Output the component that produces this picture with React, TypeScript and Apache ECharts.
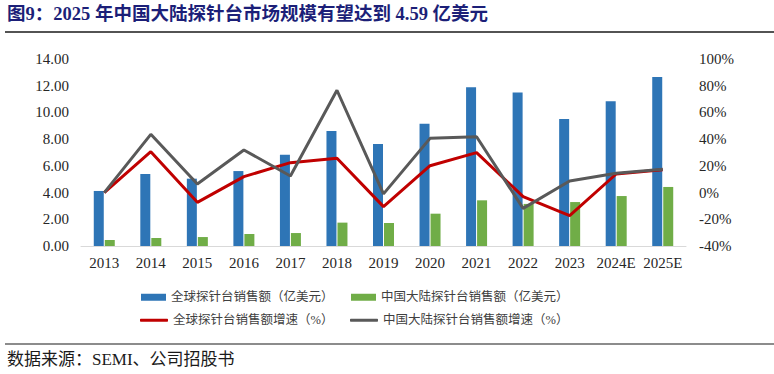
import React, { useEffect, useRef } from "react";
import * as echarts from "echarts";

const years = ["2013", "2014", "2015", "2016", "2017", "2018", "2019", "2020", "2021", "2022", "2023", "2024E", "2025E"];
const globalSales = [4.12, 5.39, 5.04, 5.61, 6.84, 8.61, 7.64, 9.16, 11.88, 11.5, 9.5, 10.83, 12.65];
const chinaSales = [0.45, 0.6, 0.67, 0.9, 0.97, 1.75, 1.72, 2.42, 3.42, 3.15, 3.29, 3.74, 4.42];
const globalGrowth = [0, 30.6, -7.3, 11.9, 22.4, 25.7, -10.5, 20.1, 29.9, -3.0, -17.3, 13.9, 17.1];
const chinaGrowth = [0, 43.6, 6.4, 31.9, 12.4, 76.6, -1.0, 40.6, 41.8, -11.8, 8.7, 14.4, 17.4];

const leftTicks = { min: 0, max: 14, interval: 2 };
const rightTicks = { min: -40, max: 100, interval: 20 };

const names = [
  "全球探针台销售额（亿美元）",
  "中国大陆探针台销售额（亿美元）",
  "全球探针台销售额增速（%）",
  "中国大陆探针台销售额增速（%）",
];

const SERIF = "'Liberation Serif', 'Times New Roman', 'Noto Sans CJK SC', serif";
const TXT = "#262626";

export default function App() {
  const ref = useRef<HTMLDivElement>(null);
  useEffect(() => {
    if (!ref.current) return;
    const chart = echarts.init(ref.current, undefined, { renderer: "svg" });
    const legendBase = {
      itemGap: 0,
      padding: 0,
      textStyle: { fontFamily: SERIF, fontSize: 12.5, color: "#404040" },
      itemWidth: 25,
      selectedMode: false,
    };
    chart.setOption({
      animation: false,
      backgroundColor: "#ffffff",
      grid: { left: 81, right: 88, top: 59, bottom: 128, containLabel: false },
      legend: [
        { ...legendBase, data: [{ name: names[0], icon: "rect" }], left: 141, top: 291, itemHeight: 7 },
        { ...legendBase, data: [{ name: names[1], icon: "rect" }], left: 351, top: 291, itemHeight: 7 },
        { ...legendBase, data: [{ name: names[2], icon: "roundRect" }], left: 140, top: 314, itemHeight: 3, itemWidth: 28 },
        { ...legendBase, data: [{ name: names[3], icon: "roundRect" }], left: 350, top: 314, itemHeight: 3, itemWidth: 28 },
      ],
      xAxis: {
        type: "category",
        data: years,
        axisLine: { lineStyle: { color: "#d9d9d9", width: 1 } },
        axisTick: { show: false },
        axisLabel: { fontFamily: SERIF, fontSize: 15, color: TXT, margin: 9, interval: 0 },
      },
      yAxis: [
        {
          type: "value",
          ...leftTicks,
          splitLine: { show: false },
          axisLine: { show: false },
          axisTick: { show: false },
          axisLabel: {
            fontFamily: SERIF,
            fontSize: 15,
            color: TXT,
            margin: 12,
            formatter: (v: number) => v.toFixed(2),
          },
        },
        {
          type: "value",
          ...rightTicks,
          position: "right",
          splitLine: { show: false },
          axisLine: { show: false },
          axisTick: { show: false },
          axisLabel: {
            fontFamily: SERIF,
            fontSize: 15,
            color: TXT,
            margin: 13,
            formatter: (v: number) => `${v}%`,
          },
        },
      ],
      series: [
        {
          name: names[0],
          type: "bar",
          data: globalSales,
          barWidth: 10,
          barGap: "10%",
          itemStyle: { color: "#2e75b6" },
        },
        {
          name: names[1],
          type: "bar",
          data: chinaSales,
          barWidth: 10,
          barGap: "10%",
          itemStyle: { color: "#70ad47" },
        },
        {
          name: names[2],
          type: "line",
          yAxisIndex: 1,
          data: globalGrowth,
          showSymbol: false,
          symbol: "none",
          lineStyle: { color: "#c00000", width: 3 },
          itemStyle: { color: "#c00000" },
          z: 3,
        },
        {
          name: names[3],
          type: "line",
          yAxisIndex: 1,
          data: chinaGrowth,
          showSymbol: false,
          symbol: "none",
          lineStyle: { color: "#595959", width: 3 },
          itemStyle: { color: "#595959" },
          z: 4,
        },
      ],
      graphic: [
        {
          type: "text",
          left: 7,
          top: 5,
          style: {
            text: "图9：2025 年中国大陆探针台市场规模有望达到 4.59 亿美元",
            fontFamily: SERIF,
            fontWeight: "bold",
            fontSize: 18.5,
            fill: "#1c1f78",
          },
        },
        {
          type: "line",
          shape: { x1: 5, y1: 32, x2: 774, y2: 32 },
          style: { stroke: "#1a1a1a", lineWidth: 1.5 },
        },
        {
          type: "line",
          shape: { x1: 5, y1: 344, x2: 774, y2: 344 },
          style: { stroke: "#1a1a1a", lineWidth: 1.2 },
        },
        {
          type: "text",
          left: 7,
          top: 351,
          style: {
            text: "数据来源：SEMI、公司招股书",
            fontFamily: SERIF,
            fontSize: 17,
            fill: "#1a1a1a",
          },
        },
      ],
    });
    return () => chart.dispose();
  }, []);
  return (
    <div
      ref={ref}
      style={{ position: "absolute", left: 0, top: 0, width: 774, height: 374 }}
    />
  );
}
